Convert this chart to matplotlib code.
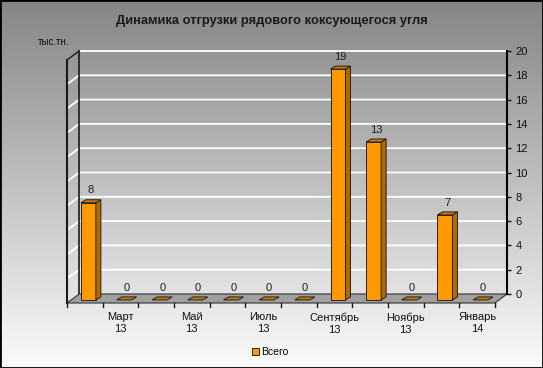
import numpy as np
import matplotlib
matplotlib.use('Agg')
import matplotlib.pyplot as plt
from matplotlib.patches import Polygon, Rectangle
from matplotlib.colors import LinearSegmentedColormap

# data
months = ['Февраль\n13', 'Март\n13', 'Апрель\n13', 'Май\n13', 'Июнь\n13', 'Июль\n13',
          'Август\n13', 'Сентябрь\n13', 'Октябрь\n13', 'Ноябрь\n13', 'Декабрь\n13', 'Январь\n14']
values = [8, 0, 0, 0, 0, 0, 0, 19, 13, 0, 7, 0]
y_ticks = list(range(0, 21, 2))
title = 'Динамика отгрузки рядового коксующегося угля'
unit = 'тыс.тн.'
series_name = 'Всего'

plt.rcParams['font.family'] = ['Liberation Sans', 'DejaVu Sans']

W, H = 543, 368
fig = plt.figure(figsize=(W / 100, H / 100), dpi=100)

# gray gradient background
bg = fig.add_axes([0, 0, 1, 1], zorder=0)
grad = np.linspace(0, 1, 256).reshape(-1, 1)
cmap = LinearSegmentedColormap.from_list('bg', ['#858585', '#fbfbfb'])
bg.imshow(grad, aspect='auto', cmap=cmap, extent=[0, 1, 0, 1])
bg.axis('off')

n = len(values)
DX, DY = 0.34, 0.74       # depth of the 3d box
BW, BS = 0.42, 0.1        # bar width / shift
BDX, BDY = 0.14, 0.25     # depth of each bar
Y0 = -0.49

ax = fig.add_axes([67 / W, 65 / H, 440 / W, 252 / H], zorder=1)
ax.patch.set_alpha(0)
ax.set_xlim(0, n + DX)
ax.set_ylim(-DY, 20)

# gridlines on back + left wall
for y in y_ticks[1:]:
    ax.plot([0, DX, n + DX], [y - DY, y, y], color='white', lw=1.3, zorder=1, clip_on=False)

# left wall edges
ax.plot([0, 0], [-DY, 20 - DY], color='#1a1a1a', lw=1.5, zorder=2, clip_on=False)
ax.plot([DX, DX], [0, 20], color='#1a1a1a', lw=1.2, zorder=2, clip_on=False)
ax.plot([0, DX], [20 - DY, 20], color='#1a1a1a', lw=1.2, zorder=2, clip_on=False)

# floor
ax.add_patch(Polygon([(0, -DY), (n, -DY), (n + DX, 0), (DX, 0)], closed=True,
                     fc='#a0a0a0', ec='#333333', lw=0.8, zorder=2, clip_on=False))
for i in range(n + 1):
    ax.plot([i, i], [-DY, -DY - 0.33], color='#1a1a1a', lw=1, zorder=2, clip_on=False)

# bars
for i, v in enumerate(values):
    x0 = i + 0.5 - BW / 2 + BS
    top = Y0 + v
    if v > 0:
        ax.add_patch(Rectangle((x0, Y0), BW, v, fc='#FF9900', ec='#222222', lw=0.7, zorder=3))
        ax.add_patch(Polygon([(x0 + BW, Y0), (x0 + BW + BDX, Y0 + BDY),
                              (x0 + BW + BDX, top + BDY), (x0 + BW, top)],
                             closed=True, fc='#B06A00', ec='#222222', lw=0.7, zorder=3))
    ax.add_patch(Polygon([(x0, top), (x0 + BW, top), (x0 + BW + BDX, top + BDY), (x0 + BDX, top + BDY)],
                         closed=True, fc='#C87800', ec='#222222', lw=0.7, zorder=3))
    ax.text(x0 + BW / 2 + BDX / 2, top + BDY + 0.35, str(v), ha='center', va='bottom',
            fontsize=8, color='#222222', zorder=4)

# x labels, every second month
for i in range(1, n, 2):
    ax.text(i + 0.5, -DY - 0.75, months[i], ha='center', va='top', fontsize=8,
            color='#111111', linespacing=1.25)

# right value axis
for s in ['left', 'top', 'bottom']:
    ax.spines[s].set_visible(False)
ax.spines['right'].set_bounds(0, 20)
ax.spines['right'].set_linewidth(1.5)
ax.yaxis.tick_right()
ax.set_yticks(y_ticks)
ax.tick_params(axis='y', direction='out', length=3, width=1, labelsize=8, pad=3, colors='#111111')
ax.set_xticks([])

fig.text(0.5, 1 - 21 / H, title, ha='center', va='center', fontweight='bold', fontsize=9.3,
         color='#1a1a1a')
fig.text(38 / W, 1 - 42 / H, unit, va='center', fontsize=7, color='#111111')

handle = Rectangle((0, 0), 1, 1, fc='#FF9900', ec='#222222', lw=0.7)
fig.legend([handle], [series_name], loc='center', bbox_to_anchor=(270 / W, 1 - 352 / H),
           frameon=False, fontsize=7.5, handlelength=0.7, handleheight=0.7, handletextpad=0.2)

fig.patches.append(Rectangle((0, 0), 1, 1, transform=fig.transFigure, fill=False,
                             ec='black', lw=2, zorder=10))

fig.savefig('out.png', dpi=100)
